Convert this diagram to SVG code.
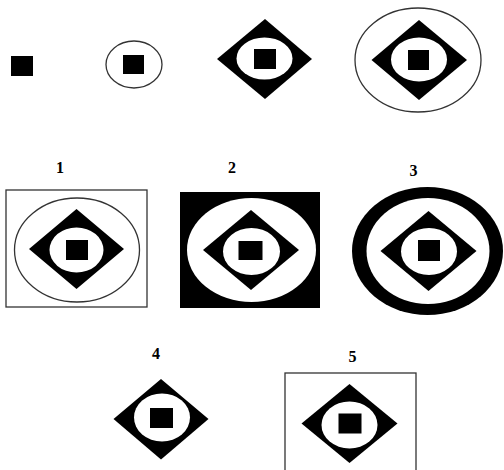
<svg xmlns="http://www.w3.org/2000/svg" width="504" height="470" viewBox="0 0 504 470">
<style>
.blk{fill:#000}
.wht{fill:#fff}
.thin{fill:none;stroke:#333;stroke-width:1.3}
.lbl{font-family:"Liberation Serif",serif;font-weight:bold;font-size:16px;fill:#000;text-anchor:middle}
</style>
<rect width="504" height="470" fill="#fff"/>
<g id="fig-a">
<rect class="blk" x="11" y="56" width="22" height="20"/>
</g>
<g id="fig-b">
<ellipse class="thin" cx="134" cy="64.5" rx="28" ry="23.5"/>
<rect class="blk" x="123" y="55" width="21" height="19"/>
</g>
<g id="fig-c">
<polygon class="blk" points="265,19 312,59 265,99 217,59"/>
<ellipse class="wht" cx="264.5" cy="58.5" rx="28" ry="21"/>
<rect class="blk" x="254" y="49" width="22" height="20"/>
</g>
<g id="fig-d">
<ellipse class="thin" cx="418" cy="60" rx="63" ry="52"/>
<polygon class="blk" points="419,20 467,60 419,100 371.5,60"/>
<ellipse class="wht" cx="419" cy="59.5" rx="28" ry="22"/>
<rect class="blk" x="408" y="50" width="21" height="20"/>
</g>
<g id="opt1">
<text class="lbl" x="60" y="173">1</text>
<rect class="thin" x="6" y="190" width="141" height="117"/>
<ellipse class="thin" cx="77" cy="250" rx="62.5" ry="52"/>
<polygon class="blk" points="76.5,209 124,249 76.5,289 29,249"/>
<ellipse class="wht" cx="76.5" cy="250" rx="27" ry="22.5"/>
<rect class="blk" x="66" y="240" width="22" height="20"/>
</g>
<g id="opt2">
<text class="lbl" x="232" y="173">2</text>
<rect class="blk" x="180" y="192" width="140" height="116"/>
<ellipse class="wht" cx="251.5" cy="250" rx="64.5" ry="52"/>
<polygon class="blk" points="251,210 299,250 251,290 203,250"/>
<ellipse class="wht" cx="251.5" cy="251.5" rx="28.5" ry="23.5"/>
<rect class="blk" x="238.5" y="241" width="24" height="19"/>
</g>
<g id="opt3">
<text class="lbl" x="413.5" y="176">3</text>
<ellipse class="blk" cx="427.5" cy="251" rx="75.5" ry="64"/>
<ellipse class="wht" cx="428" cy="251" rx="61.5" ry="53"/>
<polygon class="blk" points="428.5,211 476.5,251 428.5,291 380.5,251"/>
<ellipse class="wht" cx="429" cy="251.5" rx="28" ry="23.5"/>
<rect class="blk" x="418" y="240" width="22" height="21"/>
</g>
<g id="opt4">
<text class="lbl" x="156" y="359">4</text>
<polygon class="blk" points="161,379 208.5,419 161,459.5 113.5,419"/>
<ellipse class="wht" cx="162" cy="417.5" rx="28" ry="24"/>
<rect class="blk" x="150" y="408" width="23" height="20"/>
</g>
<g id="opt5">
<text class="lbl" x="352.5" y="362">5</text>
<rect class="thin" x="285" y="373" width="131" height="110"/>
<polygon class="blk" points="349.5,384 397.5,423.5 349.5,463 301.5,423.5"/>
<ellipse class="wht" cx="349.5" cy="425" rx="28" ry="23.5"/>
<rect class="blk" x="338.5" y="413.5" width="23" height="20"/>
</g>
</svg>
